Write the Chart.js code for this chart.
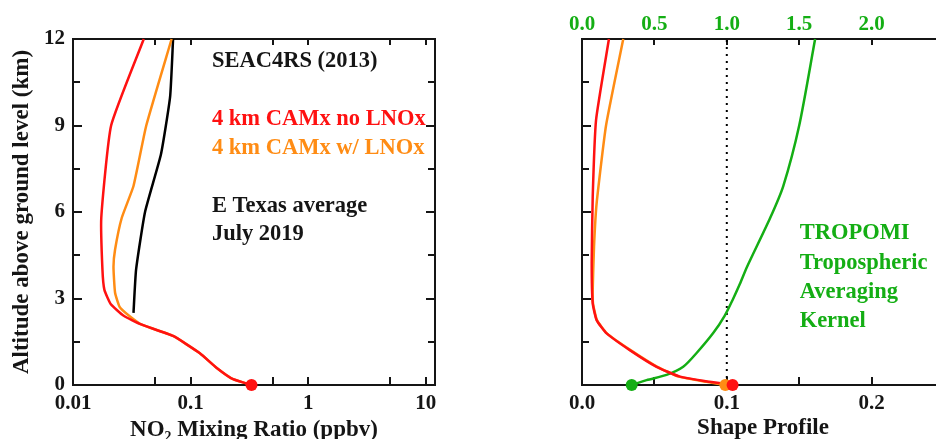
<!DOCTYPE html>
<html>
<head>
<meta charset="utf-8">
<script src="https://cdn.jsdelivr.net/npm/chart.js@4.4.0/dist/chart.umd.min.js"></script>
<style>
  html, body { margin: 0; padding: 0; background: #fff; overflow: hidden; }
  #wrap { position: relative; width: 936px; height: 439px; overflow: hidden; }
  #leftBox { position: absolute; left: 0; top: 0; width: 470px; height: 445px; }
  #rightBox { position: absolute; left: 470px; top: 0; width: 480px; height: 445px; }
</style>
</head>
<body>
<div id="wrap">
  <div id="leftBox"><canvas id="leftChart"></canvas></div>
  <div id="rightBox"><canvas id="rightChart"></canvas></div>
</div>
<script>
// ---- left panel: NO2 mixing ratio (ppbv) vs altitude (km) ----
const altRedL = [0, 0.2, 0.6, 1.1, 1.7, 2.1, 2.4, 2.8, 3.3, 4.0, 5.8, 9.0, 12];
const no2Red  = [0.33, 0.23, 0.166, 0.12, 0.071, 0.038, 0.027, 0.021, 0.0185, 0.0178, 0.0174, 0.0211, 0.040];

const altOrgL = [0, 0.2, 0.6, 1.1, 1.7, 2.1, 2.4, 2.7, 3.2, 4.1, 4.7, 5.8, 6.9, 9, 12];
const no2Org  = [0.33, 0.23, 0.166, 0.12, 0.071, 0.038, 0.03, 0.025, 0.0228, 0.0221, 0.0228, 0.026, 0.0327, 0.042, 0.069];

const altBlk = [2.5, 4, 6, 8, 10, 12];
const no2Blk = [0.0327, 0.0344, 0.041, 0.056, 0.067, 0.071];

const surfNo2 = 0.33;

// ---- right panel: shape profiles + TROPOMI averaging kernel ----
const altRedR = [0, 0.11, 0.29, 0.63, 1.21, 1.79, 2.25, 2.83, 4.22, 6.53, 9.19, 12];
const shpRed  = [0.104, 0.088, 0.0676, 0.0515, 0.033, 0.017, 0.0101, 0.0074, 0.0067, 0.0074, 0.0097, 0.0186];

const altOrgR = [0, 0.11, 0.29, 0.63, 1.21, 1.79, 2.25, 2.83, 3.3, 4.8, 6.3, 9, 12];
const shpOrg  = [0.099, 0.086, 0.067, 0.052, 0.0335, 0.0172, 0.0103, 0.0076, 0.0074, 0.0083, 0.0101, 0.0166, 0.0285];

const altAK = [0, 0.17, 0.35, 0.63, 1.1, 1.8, 2.4, 2.95, 3.5, 4.1, 5.8, 6.9, 9, 12];
const valAK = [0.343, 0.446, 0.584, 0.699, 0.79, 0.906, 0.985, 1.04, 1.09, 1.14, 1.30, 1.39, 1.50, 1.61];

const refLineX = [0.1, 0.1];
const refLineAlt = [0, 12];

// ticks
const altLabels = [0, 3, 6, 9, 12];
const altMarks = [1.5, 3, 4.5, 6, 7.5, 9, 10.5];
const logLabels = [0.01, 0.1, 1, 10];
const logMarks = [0.05, 0.1, 0.5, 1, 5, 10];
const shapeLabels = [0, 0.1, 0.2];
const shapeMarks = [0.05, 0.1, 0.15, 0.2];
const akLabels = [0, 0.5, 1, 1.5, 2];

// annotation text
const leftNotes = ['SEAC4RS (2013)', '4 km CAMx no LNOx', '4 km CAMx w/ LNOx', 'E Texas average', 'July 2019'];
const leftNoteAlt = [11.24, 9.23, 8.22, 6.21, 5.24];
const leftNoteX = 0.152;
const rightNotes = ['TROPOMI', 'Tropospheric', 'Averaging', 'Kernel'];
const rightNoteAlt = [5.27, 4.23, 3.23, 2.22];
const rightNoteX = 0.1503;

const RED = '#ff1111';
const ORANGE = '#ff8c14';
const GREEN = '#14ae14';
const INK = '#151515';
const FONT = "'Liberation Serif', 'Times New Roman', serif";

const pts = (xs, ys) => xs.map((x, i) => ({ x: x, y: ys[i] }));

// frame with inward tick marks, drawn from the chart's own scales
const frameTicks = {
  id: 'frameTicks',
  beforeDatasetsDraw(chart, args, o) {
    const { ctx, chartArea: a } = chart;
    const xs = chart.scales.x, ys = chart.scales.y;
    ctx.save();
    ctx.strokeStyle = INK;
    ctx.lineWidth = 2;
    ctx.strokeRect(a.left, a.top, a.right - a.left, a.bottom - a.top);
    ctx.beginPath();
    o.yMarks.forEach(v => {
      const p = Math.round(ys.getPixelForValue(v));
      const len = v % 3 === 0 ? 9 : 7;
      ctx.moveTo(a.left, p); ctx.lineTo(a.left + len, p);
      if (o.rightMarks) { ctx.moveTo(a.right, p); ctx.lineTo(a.right - len, p); }
    });
    o.xMarks.forEach(v => {
      const p = Math.round(xs.getPixelForValue(v));
      ctx.moveTo(p, a.bottom); ctx.lineTo(p, a.bottom - 8);
      ctx.moveTo(p, a.top); ctx.lineTo(p, a.top + 6);
    });
    ctx.stroke();
    ctx.restore();
  },
  afterDatasetsDraw(chart, args, o) {
    const { ctx } = chart;
    const xs = chart.scales.x, ys = chart.scales.y;
    ctx.save();
    ctx.font = 'bold 22.5px ' + FONT;
    ctx.textBaseline = 'middle';
    ctx.textAlign = 'left';
    o.notes.forEach((t, i) => {
      ctx.fillStyle = o.noteColors[i];
      ctx.fillText(t, xs.getPixelForValue(o.noteX), ys.getPixelForValue(o.noteAlt[i]));
    });
    ctx.restore();
  }
};

Chart.defaults.font.family = FONT;
Chart.defaults.font.weight = 'bold';
Chart.defaults.color = INK;

function lineSet(data, color, order) {
  return { data: data, borderColor: color, backgroundColor: color, borderWidth: 2.5,
           pointRadius: 0, tension: 0.15, showLine: true, order: order, clip: false };
}
function dotSet(data, color, order, xAxisID) {
  const d = { data: data, borderColor: color, backgroundColor: color, pointRadius: 6,
              pointBorderWidth: 0, showLine: false, order: order, clip: false };
  if (xAxisID) d.xAxisID = xAxisID;
  return d;
}

const noGrid = { display: false, drawTicks: false };

function createLeftChart() {
  const ctx = document.getElementById('leftChart').getContext('2d');
  return new Chart(ctx, {
    type: 'scatter',
    data: {
      datasets: [
        dotSet([{ x: surfNo2, y: 0 }], RED, 0),
        lineSet(pts(no2Red, altRedL), RED, 1),
        lineSet(pts(no2Org, altOrgL), ORANGE, 2),
        lineSet(pts(no2Blk, altBlk), '#000', 3)
      ]
    },
    options: {
      responsive: true,
      maintainAspectRatio: false,
      animation: false,
      layout: { padding: { top: 39, right: 35, left: 0, bottom: 0 } },
      plugins: {
        legend: { display: false },
        tooltip: { enabled: false },
        frameTicks: {
          yMarks: altMarks, xMarks: logMarks, rightMarks: true,
          notes: leftNotes, noteAlt: leftNoteAlt, noteX: leftNoteX,
          noteColors: [INK, RED, ORANGE, INK, INK]
        }
      },
      scales: {
        x: {
          type: 'logarithmic', min: 0.01, max: 12,
          afterBuildTicks: s => { s.ticks = logLabels.map(v => ({ value: v })); },
          afterFit: s => { s.height = 60; },
          ticks: { autoSkip: false, maxRotation: 0, padding: 6, color: INK,
                   font: { size: 21, weight: 'bold' }, callback: v => String(v) },
          grid: noGrid,
          border: { display: false },
          title: { display: true, text: 'NO\u2082 Mixing Ratio (ppbv)', color: INK,
                   font: { size: 23, weight: 'bold' }, padding: { top: 0, bottom: 1 } }
        },
        y: {
          type: 'linear', min: 0, max: 12,
          afterBuildTicks: s => { s.ticks = altLabels.map(v => ({ value: v })); },
          afterFit: s => { s.width = 73; },
          ticks: { autoSkip: false, padding: 8, color: INK, font: { size: 21, weight: 'bold' } },
          grid: noGrid,
          border: { display: false },
          title: { display: true, text: 'Altitude above ground level (km)', color: INK,
                   font: { size: 23, weight: 'bold' }, padding: { top: 8, bottom: 0 } }
        }
      }
    },
    plugins: [frameTicks]
  });
}

function createRightChart() {
  const ctx = document.getElementById('rightChart').getContext('2d');
  return new Chart(ctx, {
    type: 'scatter',
    data: {
      datasets: [
        dotSet([{ x: shpRed[0], y: 0 }], RED, 0),
        dotSet([{ x: shpOrg[0], y: 0 }], ORANGE, 1),
        dotSet([{ x: valAK[0], y: 0 }], GREEN, 0, 'x2'),
        lineSet(pts(shpRed, altRedR), RED, 2),
        lineSet(pts(shpOrg, altOrgR), ORANGE, 3),
        Object.assign(lineSet(pts(valAK, altAK), GREEN, 2), { xAxisID: 'x2', tension: 0.25 }),
        Object.assign(lineSet(pts(refLineX, refLineAlt), '#000', 5),
                      { borderDash: [2, 5], tension: 0, borderWidth: 2 })
      ]
    },
    options: {
      responsive: true,
      maintainAspectRatio: false,
      animation: false,
      layout: { padding: { top: 0, right: 6, left: 0, bottom: 0 } },
      plugins: {
        legend: { display: false },
        tooltip: { enabled: false },
        frameTicks: {
          yMarks: altMarks, xMarks: shapeMarks, rightMarks: false,
          notes: rightNotes, noteAlt: rightNoteAlt, noteX: rightNoteX,
          noteColors: [GREEN, GREEN, GREEN, GREEN]
        }
      },
      scales: {
        x: {
          type: 'linear', min: 0, max: 0.25,
          afterBuildTicks: s => { s.ticks = shapeLabels.map(v => ({ value: v })); },
          afterFit: s => { s.height = 60; },
          ticks: { autoSkip: false, maxRotation: 0, padding: 6, color: INK,
                   font: { size: 21, weight: 'bold' }, callback: v => v.toFixed(1) },
          grid: noGrid,
          border: { display: false },
          title: { display: true, text: 'Shape Profile', color: INK,
                   font: { size: 23, weight: 'bold' }, padding: { top: 0, bottom: 3 } }
        },
        x2: {
          type: 'linear', position: 'top', min: 0, max: 2.5,
          afterBuildTicks: s => { s.ticks = akLabels.map(v => ({ value: v })); },
          afterFit: s => { s.height = 39; },
          ticks: { autoSkip: false, maxRotation: 0, padding: 2, color: GREEN,
                   font: { size: 21, weight: 'bold' }, callback: v => v.toFixed(1) },
          grid: noGrid,
          border: { display: false }
        },
        y: {
          type: 'linear', min: 0, max: 12,
          afterFit: s => { s.width = 112; },
          ticks: { display: false },
          grid: noGrid,
          border: { display: false }
        }
      }
    },
    plugins: [frameTicks]
  });
}

document.addEventListener('DOMContentLoaded', () => {
  createLeftChart();
  createRightChart();
});
</script>
</body>
</html>
